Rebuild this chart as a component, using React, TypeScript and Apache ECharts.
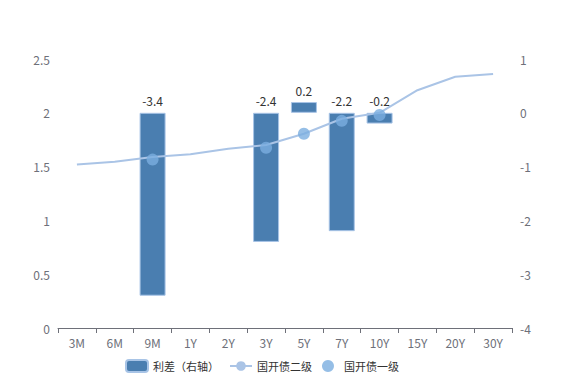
import React, { useEffect, useRef } from "react";
import * as echarts from "echarts";

const categories = ["3M", "6M", "9M", "1Y", "2Y", "3Y", "5Y", "7Y", "10Y", "15Y", "20Y", "30Y"];
const spread = [null, null, -3.4, null, null, -2.4, 0.2, -2.2, -0.2, null, null, null];
const secondary = [1.52, 1.545, 1.59, 1.615, 1.665, 1.7, 1.805, 1.945, 2.0, 2.21, 2.335, 2.36];
const primary = [null, null, 1.565, null, null, 1.675, 1.805, 1.925, 1.98, null, null, null];

export default function App() {
  const ref = useRef<HTMLDivElement>(null);
  useEffect(() => {
    const chart = echarts.init(ref.current!, null, { renderer: "svg" });
    const font = "'Microsoft YaHei', 'Noto Sans CJK SC', sans-serif";
    chart.setOption({
      animation: false,
      textStyle: { fontFamily: font },
      grid: { left: 58, right: 57, top: 59, bottom: 52 },
      legend: {
        bottom: 2,
        left: 120,
        itemWidth: 22,
        itemHeight: 12,
        itemGap: 10,
        textStyle: { color: "#333", fontSize: 11, fontFamily: font },
        data: [
          { name: "利差（右轴）", icon: "roundRect" },
          { name: "国开债二级" },
          { name: "国开债一级", icon: "circle" },
        ],
      },
      xAxis: {
        type: "category",
        data: categories,
        axisLine: { lineStyle: { color: "#6e7079" } },
        axisTick: { show: true, alignWithLabel: false },
        axisLabel: { color: "#6e7079", fontSize: 12 },
      },
      yAxis: [
        {
          type: "value",
          min: 0,
          max: 2.5,
          interval: 0.5,
          splitLine: { show: false },
          axisLine: { show: false },
          axisLabel: { color: "#6e7079", fontSize: 12 },
        },
        {
          type: "value",
          min: -4,
          max: 1,
          interval: 1,
          splitLine: { show: false },
          axisLine: { show: false },
          axisLabel: { color: "#6e7079", fontSize: 12 },
        },
      ],
      series: [
        {
          name: "利差（右轴）",
          type: "bar",
          yAxisIndex: 1,
          data: spread,
          barWidth: 26,
          itemStyle: { color: "#4a7eb0", borderColor: "#a8c4e6", borderWidth: 1 },
          label: { show: true, position: "top", distance: 6, color: "#333", fontSize: 12 },
          z: 2,
        },
        {
          name: "国开债二级",
          type: "line",
          data: secondary,
          showSymbol: false,
          symbol: "circle",
          symbolSize: 8,
          lineStyle: { color: "#aac4e6", width: 2 },
          itemStyle: { color: "#aac4e6" },
          z: 3,
        },
        {
          name: "国开债一级",
          type: "scatter",
          data: primary,
          symbolSize: 12,
          itemStyle: { color: "#7aaee0" },
          z: 4,
        },
      ],
    });
    return () => chart.dispose();
  }, []);
  return <div ref={ref} style={{ width: 569, height: 380, position: "absolute", left: 0, top: 0 }} />;
}
